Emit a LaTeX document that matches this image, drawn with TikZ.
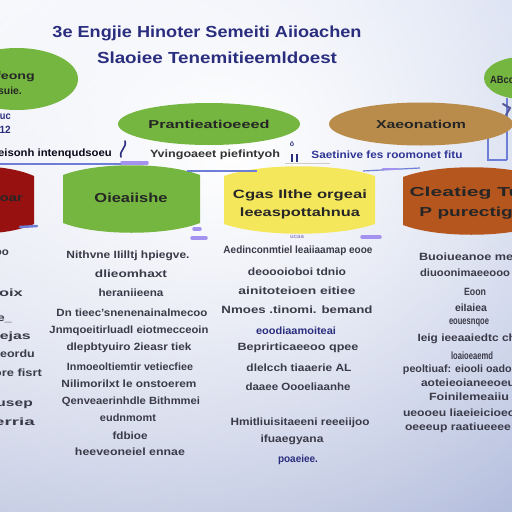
\documentclass[tikz,border=0pt]{standalone}
\usepackage{fontspec}
\setmainfont{Liberation Sans}
\usepackage{graphicx}
\usetikzlibrary{shapes.geometric,fadings,shadings,calc}
\definecolor{cTL}{HTML}{F2F4FB}
\definecolor{cTR}{HTML}{CDD6EE}
\definecolor{cBL}{HTML}{C6CDE4}
\definecolor{cBR}{HTML}{B4BEDD}
\definecolor{gr}{HTML}{74B63F}
\definecolor{tanE}{HTML}{B98C4C}
\definecolor{yel}{HTML}{F5E75B}
\definecolor{brn}{HTML}{B5561F}
\definecolor{dred}{HTML}{981111}
\definecolor{navy}{HTML}{2B2E7E}
\definecolor{navyb}{HTML}{2F3595}
\definecolor{txt}{HTML}{3A3A48}
\definecolor{conc}{HTML}{6E7ED6}
\definecolor{lav}{HTML}{A392F0}
\tikzfading[name=glow, inner color=transparent!0, outer color=transparent!100]
\newcommand{\hw}[2]{\resizebox{#1pt}{\height}{#2}}
\newcommand{\barrel}[5]{\fill[#1] (#2,#3+10) .. controls ({#2+0.25*(#4-#2)},#3-3) and ({#4-0.25*(#4-#2)},#3-3) .. (#4,#3+10) -- (#4,#5-10) .. controls ({#4-0.25*(#4-#2)},#5+3) and ({#2+0.25*(#4-#2)},#5+3) .. (#2,#5-10) -- cycle;}
\begin{document}
\begin{tikzpicture}[x=1pt,y=-1pt,
  body/.style={font=\fontsize{10.5}{12}\selectfont\bfseries, text=txt, inner sep=0pt},
  titlef/.style={font=\fontsize{16}{18}\selectfont\bfseries, text=navy, inner sep=0pt},
  boxt/.style={font=\fontsize{13}{15}\selectfont\bfseries, text=black!85, inner sep=0pt},
  ell/.style={ellipse, inner sep=0pt, font=\fontsize{11.5}{13}\selectfont\bfseries, text=black!85},
  boxn/.style={inner sep=0pt},
  conn/.style={draw=conc, line width=1.2pt},
  lavc/.style={draw=lav, line width=3.5pt, line cap=round}]
\useasboundingbox (0,0) rectangle (512,512);
% background
\shade[upper left=cTL, upper right=cTR, lower left=cBL, lower right=cBR] (0,0) rectangle (512,512);
\fill[white, path fading=glow] (230,150) ellipse [x radius=500, y radius=430];

% connectors behind shapes
\coordinate (r1) at (507,98);
\coordinate (r2) at (507,160);
\coordinate (r3) at (488,133);
\draw[conn] (r1) -- (r2);
\draw[conn] (r3) |- (r2);
\draw[navy!80, line width=2pt, line cap=round] (503,104) -- (510,108) -- (506,115);

% ellipses
\node[ell, fill=gr, minimum width=122pt, minimum height=62pt] (e1) at (17,79) {};
\node[ell, fill=gr, minimum width=182pt, minimum height=42pt] (e2) at (209,124) {\hw{121}{Prantieatioeeed}};
\node[ell, fill=tanE, minimum width=184pt, minimum height=43pt] (e3) at (421,124) {\hw{90}{Xaeonatiom}};
\node[ell, fill=gr, minimum width=76pt, minimum height=42pt] (e4) at (522,78) {};
\node[body, text=black!85, anchor=west] (e4t) at (490,80) {\hw{30}{ABcoo}};
\node[body, text=black!85, anchor=east] (f1) at (35,77) {\hw{48}{Pfeong}};
\node[body, text=black!85, anchor=east] (f2) at (22,91) {\hw{30}{osuie.}};

% title
\node[titlef] (t1) at (207,33) {\hw{309}{3e Engjie Hinoter Semeiti Aiioachen}};
\node[titlef] (t2) at (217,58) {\hw{240}{Slaoiee Tenemitieemldoest}};

% small labels near top left
\node[body, text=navy, anchor=east] (uc) at (11,117) {\hw{16}{auc}};
\node[body, text=navy, anchor=east] (u12) at (11,130) {\hw{14}{i12}};
\node[body, text=black!80!navy, anchor=east] (u1) at (112,154) {\hw{125}{Nleisonh intenqudsoeu}};
\node[body, text=black!80] (u2) at (215,155) {\hw{130}{Yvingoaeet piefintyoh}};
\node[body, text=navyb] (u3) at (387,155) {\hw{151}{Saetinive fes roomonet fitu}};

% boxes
\barrel{dred}{-80}{166}{34}{234}
\barrel{gr}{63}{165}{200}{233}
\barrel{yel}{224}{166}{375}{234}
\barrel{brn}{403}{167}{540}{235}
\node[boxn, minimum width=42pt, minimum height=64pt] (b1) at (13,200) {};
\node[boxt, font=\fontsize{11}{13}\selectfont\bfseries, anchor=east] (b1t) at (23,198) {\hw{36}{Iooar}};
\node[boxn, boxt, minimum width=137pt, minimum height=66pt] (b2) at (131,198) {\hw{73}{Oieaiishe}};
\node[boxn, minimum width=151pt, minimum height=66pt] (b3) at (300,200) {};
\node[boxt, font=\fontsize{12}{14}\selectfont\bfseries] (b3a) at (300,195) {\hw{134}{Cgas Ilthe orgeai}};
\node[boxt, font=\fontsize{12}{14}\selectfont\bfseries] (b3b) at (300,213) {\hw{120}{leeaspottahnua}};
\node[boxn, minimum width=137pt, minimum height=66pt] (b4) at (471,201) {};
\node[boxt] (b4a) at (472,193) {\hw{125}{Cleatieg Tuo}};
\node[boxt] (b4b) at (472,213) {\hw{105}{P purectigp}};

% connector fragments
\coordinate (k1) at (0,164);
\draw[conn] (k1) -- (k1 -| b2.north);
\draw[lavc] ($(b2.north)+(-9,-2)$) -- ($(b2.north)+(16,-2)$);
\coordinate (s1) at (125,141);
\coordinate (s2) at (121,157);
\draw[navy, line width=1.6pt, line cap=round] (s1) .. controls (127,148) and (119,150) .. (s2);
\coordinate (k3) at (187,171);
\coordinate (k4) at (257,171);
\draw[conn] (k3) -- (k4);
\coordinate (k5) at (363,171);
\coordinate (k6) at (420,168);
\draw[conn] (k5) -- (k6);
\draw[lav, line width=2.5pt, line cap=round] (383,169) -- (398,169);
\coordinate (m1) at (20,227);
\coordinate (m2) at (37,226);
\draw[conn, line width=2.5pt, line cap=round] (m1) -- (m2);
\draw[lavc] (194,229) -- (200,229);
\draw[lavc] (192,238) -- (206,238);
\draw[lavc] (362,237) -- (380,237);
\coordinate (v1) at (292,154);
\coordinate (v2) at (292,162);
\coordinate (v3) at (297,154);
\coordinate (v4) at (297,162);
\draw[navy, line width=1.2pt] (v1) -- (v2);
\draw[navy, line width=1.2pt] (v3) -- (v4);
\draw[gray!40, line width=1pt] (285,163) -- (330,163);
\node[font=\fontsize{7}{8}\selectfont\bfseries, text=navy, inner sep=0pt] (dot) at (292,144) {ö};
\node[font=\fontsize{6}{7}\selectfont\bfseries, text=lav!60!gray, inner sep=0pt] (faint) at (297,237) {ucaa};

% column 1
\node[body, anchor=east] (c1a) at (9,252) {\hw{30}{Iaeoo}};
\node[body, anchor=east] (c1b) at (23,293) {\hw{40}{Cloix}};
\node[body, anchor=east] (c1c) at (12,320) {\hw{30}{ope\_}};
\node[body, anchor=east] (c1d) at (31,337) {\hw{45}{atejas}};
\node[body, anchor=east] (c1e) at (35,355) {\hw{50}{qgeordu}};
\node[body, anchor=east] (c1f) at (42,373) {\hw{55}{eore fisrt}};
\node[body, anchor=east] (c1g) at (33,405) {\hw{45}{ausep}};
\node[body, anchor=east] (c1h) at (35,422) {\hw{48}{rerria}};

% column 2
\node[body] (c2a) at (128,256) {\hw{123}{Nithvne IIilltj hpiegve.}};
\node[body] (c2b) at (131,274) {\hw{72}{dlieomhaxt}};
\node[body] (c2c) at (131,293) {\hw{65}{heraniieena}};
\node[body] (c2d) at (132,313) {\hw{151}{Dn tieec'snenenainalmecoo}};
\node[body] (c2e) at (129,331) {\hw{159}{Jnmqoeitirluadl eiotmecceoin}};
\node[body] (c2f) at (129,348) {\hw{125}{dlepbtyuiro 2ieasr tiek}};
\node[body] (c2g) at (130,367) {\hw{126}{Inmoeoltiemtir vetiecfiee}};
\node[body] (c2h) at (129,384) {\hw{135}{Nilimorilxt le onstoerem}};
\node[body] (c2i) at (131,402) {\hw{138}{Qenveaerinhdle Bithmmei}};
\node[body] (c2j) at (128,418) {\hw{56}{eudnmomt}};
\node[body] (c2k) at (130,436) {\hw{35}{fdbioe}};
\node[body] (c2l) at (130,452) {\hw{110}{heeveoneiel ennae}};

% column 3
\node[body] (c3a) at (298,251) {\hw{149}{Aedinconmtiel leaiiaamap eooe}};
\node[body] (c3b) at (297,272) {\hw{98}{deoooioboi tdnio}};
\node[body] (c3c) at (297,291) {\hw{117}{ainitoteioen eitiee}};
\node[body] (c3d) at (297,310) {\hw{151}{Nmoes .tinomi. bemand}};
\node[body, text=navy] (c3e) at (296,331) {\hw{80}{eoodiaamoiteai}};
\node[body] (c3f) at (298,348) {\hw{121}{Beprirticaeeoo qpee}};
\node[body] (c3g) at (299,368) {\hw{105}{dlelcch tiaaerie AL}};
\node[body] (c3h) at (298,387) {\hw{105}{daaee Oooeliaanhe}};
\node[body] (c3i) at (300,423) {\hw{139}{Hmitliuisitaeeni reeeiijoo}};
\node[body] (c3j) at (292,440) {\hw{63}{ifuaegyana}};
\node[body, text=navy] (c3k) at (298,460) {\hw{40}{poaeiee.}};

% column 4
\node[body] (c4a) at (470,257) {\hw{102}{Buoiueanoe meu}};
\node[body] (c4b) at (465,273) {\hw{90}{diuoonimaeeooo}};
\node[body] (c4c) at (475,292) {\hw{22}{Eoon}};
\node[body] (c4d) at (471,308) {\hw{32}{eiIaiea}};
\node[body] (c4e) at (469,323) {\hw{40}{eouesnqoe}};
\node[body] (c4f) at (470,339) {\hw{105}{Ieig ieeaaiedtc che}};
\node[body] (c4g) at (472,356) {\hw{42}{loaioeaemd}};
\node[body] (c4h) at (468,370) {\hw{130}{peoltiuaf: eiooli oadoeeni}};
\node[body] (c4i) at (468,383) {\hw{94}{aoteieoianeeoeu}};
\node[body] (c4j) at (469,397) {\hw{80}{Foinilemeaiiu}};
\node[body] (c4k) at (468,413) {\hw{130}{ueooeu liaeieicioeoeoi}};
\node[body] (c4l) at (458,428) {\hw{106}{oeeeup raatiueeee}};
\end{tikzpicture}
\end{document}
